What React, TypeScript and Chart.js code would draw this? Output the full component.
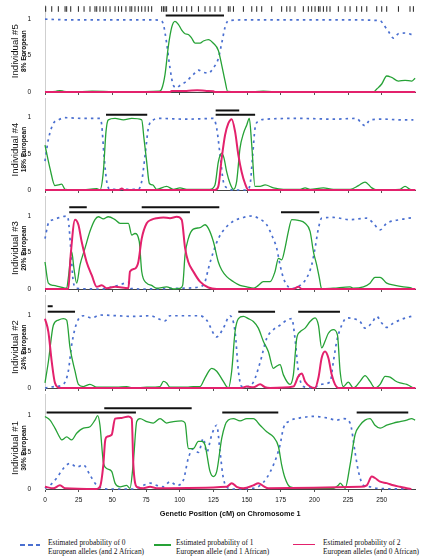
import React, { useEffect, useRef } from 'react';
import { Chart, registerables } from 'chart.js';
Chart.register(...registerables);

type Pt = [number, number];
type Bar = [number, number, number];

// ---------- data (cM, probability) ----------
const X_MAX = 275;
const X_TICKS = [0, 25, 50, 75, 100, 125, 150, 175, 200, 225, 250];
const Y_TICKS = [0, 0.5, 1];

const individuals = ['Individual #5', 'Individual #4', 'Individual #3', 'Individual #2', 'Individual #1'];
const european = ['8% European', '18% European', '20% European', '24% European', '30% European'];

const legendLabels = [
  ['Estimated probability of 0', 'European alleles (and 2 African)'],
  ['Estimated probability of 1', 'European allele (and 1 African)'],
  ['Estimated probability of 2', 'European alleles (and 0 African)'],
];
const axisTitle = 'Genetic Position (cM) on Chromosome 1';

// marker positions (top rug)
const markers = [0.5, 5.0, 9.9, 14.9, 16.1, 19.1, 24.8, 29.0, 33.4, 37.1, 38.4, 40.8, 43.3, 45.3, 48.3, 52.0, 54.5, 56.9, 60.1, 63.1, 64.4, 66.8, 69.3, 71.8, 74.3, 76.7, 79.2, 86.6, 87.9, 89.1, 90.3, 95.3, 97.8, 101.5, 105.2, 108.9, 113.9, 118.8, 122.5, 126.2, 130.0, 136.1, 137.4, 139.9, 147.3, 153.5, 157.2, 160.9, 168.3, 175.7, 179.5, 181.9, 185.6, 191.8, 195.5, 198.0, 200.5, 203.0, 204.2, 206.7, 209.2, 211.6, 217.8, 222.8, 226.5, 231.4, 235.1, 238.9, 246.3, 250.0, 253.7, 262.4, 271.0, 273.5];

// Individual #5
const blue5: Pt[] = [[0, 1.0], [20, 0.99], [40, 0.99], [60, 0.99], [80, 0.99], [86, 0.98], [87.9, 0.93], [90.3, 0.67], [92.8, 0.33], [95.3, 0.09], [97.8, 0.06], [100.2, 0.09], [105.2, 0.15], [110.1, 0.24], [113.9, 0.3], [117.6, 0.27], [121.3, 0.26], [125, 0.33], [128.7, 0.46], [131.2, 0.67], [133.7, 0.89], [136.1, 0.98], [150, 0.99], [175, 0.99], [200, 0.99], [225, 0.99], [248.8, 0.98], [251.2, 0.93], [255, 0.83], [258.7, 0.74], [262.4, 0.8], [267.3, 0.81], [274.8, 0.77]];
const green5: Pt[] = [[0, 0], [8, 0.01], [11, 0.02], [14, 0.01], [20, 0], [35, 0.01], [60, 0], [85, 0.01], [86.6, 0.04], [89.1, 0.24], [91.6, 0.63], [94.1, 0.89], [96.5, 0.97], [99, 0.93], [101.5, 0.85], [104, 0.8], [106.4, 0.79], [108.9, 0.74], [111.4, 0.67], [115.1, 0.67], [117.6, 0.7], [121.3, 0.72], [125, 0.67], [128.7, 0.57], [131.2, 0.37], [133.7, 0.15], [135.6, 0.01], [150, 0], [162, 0.01], [175, 0], [200, 0], [225, 0], [243.8, 0], [246.3, 0.04], [250, 0.11], [253.7, 0.22], [257.4, 0.2], [262.4, 0.15], [267.3, 0.16], [272.2, 0.15], [274.8, 0.19]];
const pink5: Pt[] = [[0, 0], [93, 0], [94, 0.015], [105, 0.015], [113, 0.025], [120, 0.015], [125, 0.01], [126, 0], [275, 0]];
const bars5: Bar[] = [[89.6, 132.9, 1.05]];

// Individual #4
const blue4: Pt[] = [[0, 0.4], [2.5, 0.7], [6.2, 0.92], [9.9, 0.97], [14.9, 1.0], [28.5, 0.99], [40.8, 0.99], [42.1, 0.9], [43.8, 0.48], [45.8, 0.12], [48.3, 0.01], [69.3, 0.01], [71.8, 0.12], [74.3, 0.48], [76.7, 0.85], [80.4, 0.97], [85.4, 0.99], [105.2, 0.98], [125, 0.99], [127.5, 0.85], [130, 0.48], [132.4, 0.12], [136.1, 0.02], [139.9, 0], [149.8, 0], [152.2, 0.07], [154.2, 0.48], [155.9, 0.85], [158.4, 0.95], [164.6, 0.98], [189.4, 0.99], [214.1, 0.98], [231.4, 0.99], [235.1, 0.92], [237.6, 0.89], [241.3, 0.97], [251.2, 0.98], [263.6, 0.97], [273.5, 0.97]];
const green4: Pt[] = [[0, 0.62], [3.7, 0.3], [7.4, 0.06], [9.9, 0.07], [12.4, 0.08], [14.9, 0.01], [26, 0], [38.4, 0.02], [40.8, 0], [43.3, 0.25], [45.3, 0.81], [47, 0.97], [52, 0.99], [58.2, 0.97], [64.4, 0.99], [71.8, 0.97], [73.5, 0.71], [75.5, 0.39], [77.5, 0.09], [80, 0.07], [82.9, 0.01], [90.3, 0.05], [95.3, 0.01], [100.2, 0.03], [105.2, 0.01], [122.5, 0.01], [126.2, 0.07], [128.7, 0.39], [131.2, 0.51], [132.9, 0.44], [134.9, 0.25], [137.4, 0.09], [139.9, 0.01], [142.3, 0.12], [144.8, 0.58], [147.3, 0.78], [149.8, 0.9], [151.7, 0.99], [153.5, 0.62], [155.9, 0.05], [159.7, 0.05], [163.4, 0.07], [169.6, 0.03], [177, 0.01], [189.4, 0.01], [193.1, 0.03], [196.8, 0.01], [206.7, 0.03], [214.1, 0.01], [226.5, 0.01], [232.7, 0.06], [237.6, 0.11], [242.6, 0.03], [246.3, 0], [263.6, 0.01], [267.3, 0.05], [271, 0.01], [273.5, 0]];
const pink4: Pt[] = [[0, 0], [55, 0], [57, 0.02], [59, 0], [126.2, 0], [128.7, 0.05], [131.2, 0.44], [133.7, 0.76], [136.1, 0.92], [138.6, 0.98], [141.1, 0.81], [143.6, 0.48], [146, 0.25], [148.5, 0.09], [151, 0], [275, 0]];
const bars4: Bar[] = [[45.3, 75.9, 1.04], [126.7, 144.2, 1.1], [126.7, 156, 1.04]];

// Individual #3
const blue3: Pt[] = [[0, 0.69], [2.5, 0.9], [6.2, 0.95], [11.1, 0.98], [16.1, 1.0], [17.3, 0.95], [19.1, 0.56], [21, 0.1], [23.5, 0.01], [40.8, 0], [54.5, 0.05], [61.9, 0.09], [63.6, 0.01], [73, 0], [100.2, 0.01], [115.1, 0.03], [118.8, 0.1], [121.3, 0.28], [125, 0.51], [128.7, 0.69], [133.7, 0.83], [139.9, 0.93], [147.3, 0.98], [153.5, 1.0], [158.4, 0.97], [164.6, 0.88], [168.3, 0.74], [172, 0.56], [174.5, 0.33], [177, 0.15], [180.7, 0.03], [184.4, 0.01], [189.4, 0.05], [194.3, 0.15], [198, 0.33], [200.5, 0.56], [203, 0.83], [205.4, 0.97], [214.1, 0.98], [226.5, 0.95], [238.9, 0.97], [243.8, 0.9], [248.8, 0.81], [253.7, 0.9], [263.6, 0.95], [273.5, 0.98]];
const green3: Pt[] = [[0, 0.37], [2.5, 0.08], [6.2, 0.05], [11.1, 0.03], [16.1, 0.01], [17.3, 0.15], [19.8, 0.51], [21.5, 0.28], [23.5, 0.08], [26, 0.33], [29.7, 0.56], [33.4, 0.79], [37.1, 0.95], [39.6, 0.99], [43.3, 0.96], [47, 0.99], [52, 0.95], [55.7, 0.9], [61.9, 0.9], [64.4, 0.74], [66.8, 0.76], [70, 0.65], [71.8, 0.24], [75.5, 0.08], [79.2, 0.05], [82.9, 0.01], [90.3, 0.03], [95.3, 0], [100.2, 0.01], [102.2, 0.05], [104, 0.47], [106.4, 0.69], [110.1, 0.82], [115.1, 0.84], [118.8, 0.88], [121.3, 0.83], [125, 0.65], [128.7, 0.37], [131.2, 0.26], [134.9, 0.17], [139.9, 0.1], [144.8, 0.05], [149.8, 0.03], [154.7, 0.01], [158.4, 0.05], [162.1, 0.1], [167.1, 0.1], [170.8, 0.24], [173.3, 0.42], [175.7, 0.4], [178.2, 0.56], [180.7, 0.79], [183.2, 0.95], [188.1, 0.94], [193.1, 0.9], [196.8, 0.79], [199.3, 0.51], [201.7, 0.33], [203.7, 0.15], [205.4, 0], [214.1, 0.01], [226.5, 0.03], [229, 0.01], [236.4, 0.03], [241.3, 0.08], [245, 0.16], [248.8, 0.16], [253.7, 0.08], [259.9, 0.05], [266.1, 0.03], [271, 0.02], [273.5, 0]];
const pink3: Pt[] = [[0, 0], [17.3, 0], [19.1, 0.47], [22.3, 0.95], [24.8, 0.88], [27.2, 0.65], [30.9, 0.37], [34.7, 0.19], [38.4, 0.03], [42.1, 0.05], [45.8, 0.01], [52, 0.03], [61.9, 0.01], [63.1, 0.24], [66.8, 0.28], [69.3, 0.37], [71.8, 0.69], [75.5, 0.9], [79.2, 0.95], [82.9, 0.97], [87.9, 0.98], [92.8, 0.97], [97.8, 0.99], [101.5, 0.95], [104, 0.56], [106.4, 0.37], [110.1, 0.24], [115.1, 0.1], [121.3, 0.02], [127.5, 0], [184.4, 0], [188.1, 0.03], [190.6, 0], [275, 0]];
const bars3: Bar[] = [[18, 31, 1.12], [71.8, 129.4, 1.12], [18, 107.6, 1.05], [175.2, 203.6, 1.05]];

// Individual #2
const blue2: Pt[] = [[0, 0], [7.4, 0.02], [13.6, 0.05], [17.3, 0.23], [19.8, 0.59], [23.5, 0.89], [28.5, 0.99], [34.7, 0.96], [40.8, 1.0], [53.2, 0.99], [65.6, 0.98], [78, 0.99], [89.1, 0.92], [92.8, 0.99], [115.1, 0.99], [120, 0.93], [127.5, 0.7], [132.4, 0.82], [137.4, 0.99], [141.1, 0.77], [143.6, 0.23], [146, 0.02], [149.8, 0.02], [154.7, 0.08], [159.7, 0.35], [164.6, 0.68], [169.6, 0.8], [174.5, 0.86], [179.5, 0.93], [183.2, 0.95], [185.6, 0.68], [188.1, 0.23], [191.8, 0.02], [199.3, 0], [204.2, 0.05], [211.6, 0.08], [214.1, 0.36], [216.6, 0.64], [220.3, 0.86], [224, 0.96], [229, 0.95], [233.9, 0.91], [237.6, 0.82], [242.6, 0.89], [246.3, 0.98], [250, 0.89], [253.7, 0.83], [258.7, 0.89], [266.1, 0.95], [273.5, 0.99]];
const green2: Pt[] = [[0, 0.07], [2.5, 0.36], [6.2, 0.86], [9.9, 0.93], [13.6, 0.95], [16.1, 0.93], [18.6, 0.55], [22.3, 0.23], [24.8, 0.05], [28.5, 0.02], [33.4, 0.05], [38.4, 0.01], [53.2, 0.01], [60.6, 0.02], [65.6, 0], [75.5, 0.01], [85.4, 0.02], [87.9, 0.09], [90.3, 0.07], [92.8, 0.01], [105.2, 0.01], [110.1, 0.02], [115.1, 0.02], [118.8, 0.14], [123.8, 0.27], [127.5, 0.23], [132.4, 0.09], [136.1, 0], [138.6, 0.23], [141.1, 0.77], [143.6, 0.95], [147.3, 0.98], [151, 0.95], [154.7, 0.91], [158.4, 0.82], [162.1, 0.64], [165.8, 0.5], [169.6, 0.27], [172, 0.3], [174.5, 0.32], [177, 0.18], [181.9, 0.05], [184.4, 0.18], [186.9, 0.68], [189.4, 0.77], [193.1, 0.82], [196.8, 0.91], [200.5, 0.96], [203, 0.86], [205.4, 0.55], [207.9, 0.64], [210.4, 0.75], [214.1, 0.8], [217.1, 0.73], [219.1, 0.23], [221.5, 0.02], [225.2, 0.08], [229, 0], [233.9, 0.09], [237.6, 0.17], [241.3, 0.09], [245, 0], [248.8, 0.05], [252.5, 0.16], [256.2, 0.15], [259.9, 0.1], [263.6, 0.07], [268.6, 0.05], [273.5, 0]];
const pink2: Pt[] = [[0, 0.95], [2.5, 0.77], [5, 0.36], [7.4, 0.07], [11.1, 0], [146, 0], [149.8, 0.02], [154.7, 0.01], [159.7, 0.05], [163.4, 0.01], [167.1, 0], [184.4, 0.02], [188.1, 0.16], [190.6, 0.2], [193.1, 0.09], [196.8, 0.02], [200.5, 0], [203, 0.14], [205.4, 0.41], [207.9, 0.5], [210.4, 0.41], [212.9, 0.18], [215.3, 0.05], [217.8, 0], [275, 0]];
const bars2: Bar[] = [[2, 5.7, 1.12], [2, 22.3, 1.045], [143.5, 170.8, 1.045], [188, 219, 1.045]];

// Individual #1
const blue1: Pt[] = [[0, 0.01], [3.7, 0.05], [8.7, 0.15], [13.6, 0.28], [18.6, 0.35], [23.5, 0.3], [28.5, 0.33], [33.4, 0.19], [38.4, 0.05], [42.1, 0.01], [48.3, 0], [65.6, 0], [73, 0.05], [78, 0.08], [82.9, 0.05], [87.9, 0.03], [92.8, 0.1], [97.8, 0.05], [102.7, 0.12], [106.4, 0.42], [110.1, 0.55], [113.9, 0.5], [117.6, 0.69], [120, 0.5], [123.8, 0.74], [127.5, 0.87], [130, 0.5], [132.4, 0.15], [136.1, 0.01], [139.9, 0], [154.7, 0.01], [159.7, 0.05], [164.6, 0.15], [169.6, 0.33], [174.5, 0.6], [177, 0.83], [181.9, 0.93], [189.4, 0.97], [199.3, 0.99], [209.2, 0.97], [216.6, 0.94], [221.5, 0.96], [226.5, 0.9], [230.2, 0.5], [232.7, 0.24], [236.4, 0.05], [241.3, 0.03], [246.3, 0.01], [273.5, 0]];
const green1: Pt[] = [[0, 0.99], [3.7, 0.94], [7.4, 0.83], [9.9, 0.74], [12.4, 0.67], [16.1, 0.71], [19.8, 0.67], [23.5, 0.76], [28.5, 0.83], [33.4, 0.85], [37.1, 0.94], [39.1, 1.0], [40.8, 0.87], [43.3, 0.37], [45.8, 0.28], [49.5, 0.24], [52, 0.08], [55.7, 0.03], [60.6, 0.05], [63.1, 0.01], [65.6, 0.37], [68.1, 0.92], [70.5, 0.96], [75.5, 0.92], [80.4, 0.9], [85.4, 0.96], [90.3, 0.9], [95.3, 0.92], [101.5, 0.93], [104, 0.9], [106.4, 0.55], [110.1, 0.55], [113.9, 0.65], [116.3, 0.65], [118.8, 0.6], [122.5, 0.24], [125, 0.17], [127.5, 0.24], [131.2, 0.69], [133.7, 0.87], [136.1, 0.94], [139.9, 0.96], [144.8, 0.93], [149.8, 0.96], [154.7, 0.96], [159.7, 0.87], [164.6, 0.78], [169.6, 0.71], [173.3, 0.58], [175.7, 0.33], [178.2, 0.15], [181.9, 0.03], [189.4, 0.01], [214.1, 0.01], [217.8, 0.05], [219.1, 0.08], [222.8, 0.01], [226.5, 0.33], [230.2, 0.74], [233.9, 0.87], [237.6, 0.94], [241.3, 0.96], [245, 0.87], [248.8, 0.83], [253.7, 0.87], [258.7, 0.9], [263.6, 0.92], [268.6, 0.94], [272.2, 0.96], [274.8, 0.94]];
const pink1: Pt[] = [[0, 0.03], [6.2, 0.01], [11.1, 0.05], [14.9, 0.01], [38.4, 0], [40.8, 0.03], [43.3, 0.33], [44.6, 0.65], [45.8, 0.71], [49.5, 0.74], [52, 0.96], [56.9, 0.97], [61.9, 0.99], [64.4, 0.96], [65.6, 0.33], [68.1, 0.03], [73, 0.01], [78, 0.03], [82.9, 0.01], [134.9, 0.03], [138.6, 0.08], [142.3, 0.03], [147.3, 0.01], [154.7, 0.05], [158.4, 0.08], [162.1, 0.04], [165.8, 0.01], [233.9, 0.03], [238.9, 0.05], [242.6, 0.17], [245, 0.15], [248.8, 0.1], [253.7, 0.08], [258.7, 0.05], [263.6, 0.03], [268.6, 0.01], [272, 0]];
const bars1: Bar[] = [[1.2, 67.5, 1.045], [44, 108.9, 1.1], [131.6, 173.2, 1.045], [231.4, 269.7, 1.045]];

const BLUE = [blue5, blue4, blue3, blue2, blue1];
const GREEN = [green5, green4, green3, green2, green1];
const PINK = [pink5, pink4, pink3, pink2, pink1];
const BARS = [bars5, bars4, bars3, bars2, bars1];

// ---------- layout / style ----------
const W = 423;
const PLOT_LEFT = 45;
const PLOT_RIGHT = 415.4;
const PANELS = [
  { top: 0, zero: 92, one: 15 },
  { top: 98, zero: 190, one: 117.7 },
  { top: 196, zero: 289, one: 216 },
  { top: 295, zero: 388, one: 315 },
  { top: 394, zero: 489, one: 415.7 },
];
const MARKER_LEVEL = 1.14;
const C_BLUE = '#4a6fd0';
const C_GREEN = '#26a236';
const C_PINK = '#e3216c';
const SANS = '"Liberation Sans", Arial, sans-serif';

const toXY = (pts: Pt[]) => pts.map(([x, y]) => ({ x, y }));

function makeChart(canvas: HTMLCanvasElement, i: number, last: boolean) {
  const p = PANELS[i];
  const unit = p.zero - p.one;
  const yMax = (p.zero - p.top) / unit;
  const axisH = last ? 30 : 6;

  const datasets: any[] = [
    { data: toXY(PINK[i]), borderColor: C_PINK, borderWidth: 2, cubicInterpolationMode: 'monotone' },
    { data: toXY(GREEN[i]), borderColor: C_GREEN, borderWidth: 1.3, cubicInterpolationMode: 'monotone' },
    { data: toXY(BLUE[i]), borderColor: C_BLUE, borderWidth: 1.7, borderDash: [2.5, 4], cubicInterpolationMode: 'monotone' },
  ];
  BARS[i].forEach(([a, b, lvl]) => {
    datasets.push({ data: [{ x: a, y: lvl }, { x: b, y: lvl }], borderColor: '#111', borderWidth: 2, borderCapStyle: 'butt' });
  });
  if (i === 0) {
    datasets.push({
      data: markers.map((m) => ({ x: m, y: MARKER_LEVEL })),
      showLine: false,
      pointStyle: 'line',
      rotation: 90,
      pointRadius: 2.8,
      borderColor: '#222',
      pointBorderWidth: 1,
      pointBorderColor: '#222',
    });
  }
  datasets.forEach((d) => {
    d.pointRadius = d.pointRadius ?? 0;
    d.fill = false;
    d.clip = false;
  });

  const sideLabels = {
    id: 'sideLabels',
    afterDraw(chart: any) {
      const ctx = chart.ctx;
      const cy = chart.scales.y.getPixelForValue(0.56);
      ctx.save();
      ctx.fillStyle = '#111';
      ctx.textAlign = 'center';
      ctx.textBaseline = 'middle';
      ctx.translate(15.5, cy);
      ctx.rotate(-Math.PI / 2);
      ctx.font = `9.6px ${SANS}`;
      ctx.fillText(individuals[i], 0, 0);
      ctx.restore();
      ctx.save();
      ctx.fillStyle = '#111';
      ctx.textAlign = 'center';
      ctx.textBaseline = 'middle';
      ctx.translate(24.5, cy);
      ctx.rotate(-Math.PI / 2);
      ctx.font = `bold 6.6px ${SANS}`;
      ctx.fillText(european[i], 0, 0);
      ctx.restore();
    },
  };

  return new Chart(canvas, {
    type: 'line',
    data: { datasets },
    options: {
      responsive: false,
      animation: false,
      events: [],
      layout: { padding: { left: 0, right: W - PLOT_RIGHT, top: 0, bottom: 0 } },
      plugins: { legend: { display: false }, tooltip: { enabled: false } },
      scales: {
        x: {
          type: 'linear',
          min: 0,
          max: X_MAX,
          afterBuildTicks: (s: any) => { s.ticks = X_TICKS.map((v) => ({ value: v })); },
          afterFit: (s: any) => { s.height = axisH; s.paddingLeft = 0; s.paddingRight = 0; },
          grid: { display: true, drawOnChartArea: false, drawTicks: true, tickLength: 3, color: '#555' },
          border: { display: true, color: '#444', width: 1 },
          ticks: {
            display: last,
            padding: 4,
            maxRotation: 0,
            autoSkip: false,
            color: '#111',
            font: { size: 6.5, family: SANS },
            callback: (v: any) => String(v),
          },
          title: {
            display: last,
            text: axisTitle,
            color: '#111',
            font: { size: 7.3, weight: 'bold', family: SANS },
            padding: { top: 0, bottom: 0.6 },
          },
        },
        y: {
          type: 'linear',
          min: 0,
          max: yMax,
          afterBuildTicks: (s: any) => { s.ticks = Y_TICKS.map((v) => ({ value: v })); },
          afterFit: (s: any) => { s.width = PLOT_LEFT; s.paddingTop = 0; s.paddingBottom = 0; },
          grid: { display: false },
          border: { display: true, color: '#cfcfcf', width: 1 },
          ticks: {
            padding: 6,
            color: '#111',
            font: { size: 6.5, family: SANS },
            callback: (v: any) => String(v),
          },
        },
      },
    } as any,
    plugins: [sideLabels],
  });
}

export default function App() {
  const refs = useRef<(HTMLCanvasElement | null)[]>([]);

  useEffect(() => {
    const charts = PANELS.map((_, i) => makeChart(refs.current[i] as HTMLCanvasElement, i, i === PANELS.length - 1));
    return () => charts.forEach((c) => c.destroy());
  }, []);

  const legendSamples = [
    { x: 20, w: 20, y: 545, bg: `repeating-linear-gradient(to right, ${C_BLUE} 0 5px, transparent 5px 8px)`, h: 2 },
    { x: 154, w: 17, y: 545, bg: C_GREEN, h: 1.5 },
    { x: 293, w: 22, y: 544.5, bg: C_PINK, h: 1.8 },
  ];
  const legendTextX = [48, 176, 323];

  return (
    <div style={{ position: 'absolute', left: 0, top: 0, width: W, height: 556, background: '#fff', overflow: 'hidden' }}>
      {PANELS.map((p, i) => {
        const h = p.zero - p.top + (i === PANELS.length - 1 ? 30 : 6);
        return (
          <canvas
            key={i}
            ref={(el) => { refs.current[i] = el; }}
            width={W}
            height={h}
            style={{ position: 'absolute', left: 0, top: p.top, width: W, height: h }}
          />
        );
      })}
      {legendSamples.map((s, i) => (
        <div key={'s' + i} style={{ position: 'absolute', left: s.x, top: s.y - s.h / 2, width: s.w, height: s.h, background: s.bg }} />
      ))}
      {legendLabels.map((lines, i) => (
        <div
          key={'t' + i}
          style={{
            position: 'absolute',
            left: legendTextX[i],
            top: 539.3,
            fontFamily: '"Liberation Serif", "Times New Roman", serif',
            fontSize: 7.4,
            lineHeight: '8.4px',
            color: '#111',
            whiteSpace: 'nowrap',
          }}
        >
          {lines[0]}
          <br />
          {lines[1]}
        </div>
      ))}
    </div>
  );
}
